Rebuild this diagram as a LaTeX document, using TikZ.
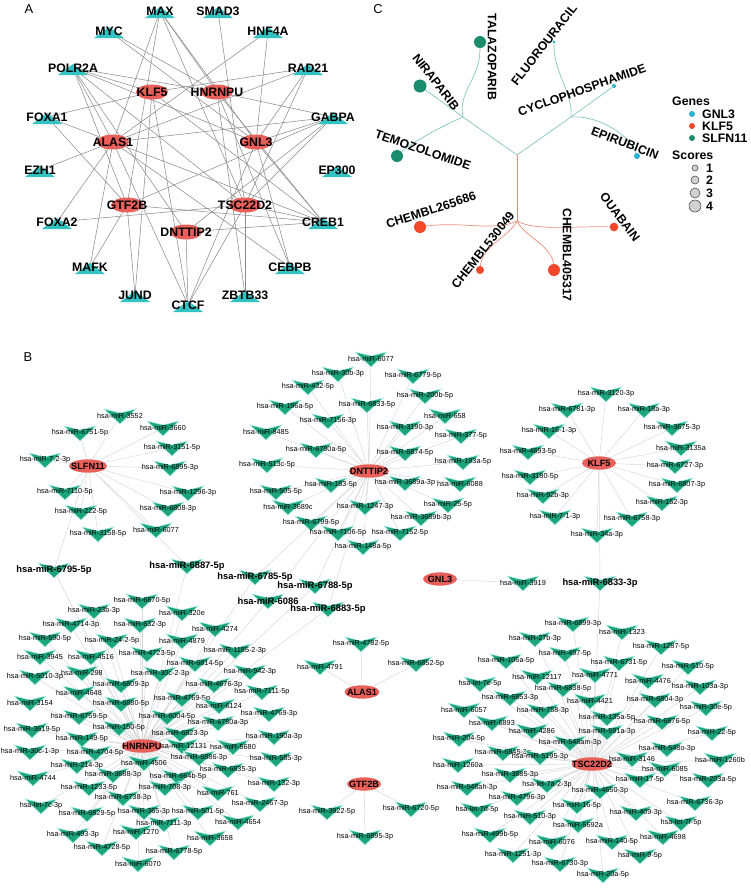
\documentclass[tikz,border=0pt]{standalone}
\usepackage{fontspec}
\setmainfont{Liberation Sans}
\usetikzlibrary{shapes.geometric}
\pgfdeclarelayer{bg}
\pgfdeclarelayer{fg}
\pgfsetlayers{bg,main,fg}
\definecolor{hubred}{HTML}{E9605A}
\definecolor{tfteal}{HTML}{33C2C2}
\definecolor{mirgreen}{HTML}{1CA57D}
\definecolor{mirglow}{HTML}{A8EDE6}
\definecolor{agray}{HTML}{8A8A8A}
\definecolor{bgray}{HTML}{D6D6D6}
\definecolor{slfcol}{HTML}{1B8C6C}
\definecolor{gnlcol}{HTML}{2AB3D3}
\definecolor{klfcol}{HTML}{F2472B}
\definecolor{tline}{HTML}{86C8B9}
\definecolor{rline}{HTML}{E8907F}

\begin{document}
\begin{tikzpicture}[x=0.03cm,y=-0.03cm,
  panel/.style={font=\fontsize{11}{13}\selectfont},
  tflab/.style={font=\bfseries\fontsize{10.5}{12}\selectfont,inner sep=0pt},
  hubA/.style={ellipse,fill=hubred,minimum width=0.96cm,minimum height=0.45cm,inner sep=0pt},
  hubAtxt/.style={font=\bfseries\fontsize{10.5}{12}\selectfont,inner sep=0pt},
  aedge/.style={draw=agray,line width=0.45pt},
  hubB/.style={ellipse,fill=hubred,minimum height=0.4cm,inner sep=0pt},
  hubBtxt/.style={font=\bfseries\fontsize{7.8}{9}\selectfont,inner sep=0pt},
  mir/.style={font=\fontsize{6.2}{7}\selectfont,inner sep=0pt},
  mirbig/.style={font=\bfseries\fontsize{8}{9}\selectfont,inner sep=0pt},
  bedge/.style={draw=bgray,line width=0.4pt},
  drug/.style={circle,inner sep=0pt},
  druglab/.style={font=\bfseries\fontsize{10.5}{12}\selectfont,inner sep=0pt},
  tbranch/.style={draw=tline,line width=0.6pt},
  rbranch/.style={draw=rline,line width=0.6pt},
  legtxt/.style={font=\bfseries\fontsize{10.5}{12}\selectfont,inner sep=0pt,anchor=west},
  pics/tftri/.style={code={\fill[tfteal] (-15,7) -- (15,7) -- (0,-4) -- cycle;}},
  pics/chev/.style={code={\filldraw[draw=mirglow,line width=0.5pt,fill=mirgreen] (-16,-7) -- (0,-3) -- (16,-7) -- (0,8) -- cycle;}}]
\useasboundingbox (0,0) rectangle (751,888);

% panel A
\node[panel] (lA) at (29,9) {A};
\foreach \n/\x/\y/\t in {max/160/11/MAX, smad3/218/11/SMAD3, myc/109/31/MYC, hnf4a/268/31/HNF4A,
  polr2a/73/68/POLR2A, rad21/308/68/RAD21, foxa1/47/117/FOXA1, gabpa/333/117/GABPA,
  ezh1/40/170/EZH1, ep300/337/170/EP300, foxa2/57/222/FOXA2, creb1/323/222/CREB1,
  mafk/90/267/MAFK, cebpb/290/267/CEBPB, jund/135/295/JUND, zbtb33/245/295/ZBTB33, ctcf/188/305/CTCF} {
  \pic at (\x,\y) {tftri};
  \node[tflab] (\n) at (\x,\y) {\t};
}
\foreach \n/\x/\y/\t in {klf5A/152/92/KLF5, hnrnpuA/217/92/HNRNPU, alas1A/113/142/ALAS1, gnl3A/256/142/GNL3,
  gtf2bA/127/205/GTF2B, tsc22d2A/245/205/TSC22D2, dnttip2A/186/232/DNTTIP2}
  \node[hubA,label={[hubAtxt]center:\t}] (\n) at (\x,\y) {};
\begin{pgfonlayer}{bg}
\foreach \a/\b in {max/alas1A, max/hnrnpuA, max/gnl3A, max/tsc22d2A, max/gtf2bA, smad3/tsc22d2A,
  myc/hnrnpuA, myc/gnl3A, hnf4a/alas1A, hnf4a/gnl3A,
  polr2a/hnrnpuA, polr2a/alas1A, polr2a/gtf2bA, polr2a/gnl3A, polr2a/tsc22d2A, polr2a/dnttip2A, polr2a/klf5A,
  rad21/alas1A, rad21/gnl3A, rad21/tsc22d2A, rad21/klf5A, foxa1/klf5A, foxa1/alas1A, foxa1/gtf2bA,
  gabpa/alas1A, gabpa/hnrnpuA, gabpa/gnl3A, gabpa/tsc22d2A, gabpa/dnttip2A, gabpa/gtf2bA, ezh1/alas1A,
  foxa2/alas1A, foxa2/tsc22d2A, creb1/hnrnpuA, creb1/alas1A, creb1/gnl3A, creb1/gtf2bA, creb1/dnttip2A,
  creb1/tsc22d2A, creb1/klf5A, mafk/alas1A, mafk/gtf2bA, cebpb/hnrnpuA, cebpb/gnl3A, cebpb/alas1A,
  jund/gtf2bA, jund/klf5A, zbtb33/tsc22d2A, zbtb33/hnrnpuA, ctcf/dnttip2A, ctcf/gnl3A, ctcf/tsc22d2A,
  ctcf/alas1A, ctcf/klf5A}
  \draw[aedge] (\a.center) -- (\b.center);
\end{pgfonlayer}

% panel C
\node[panel] (lC) at (378,9) {C};
\coordinate (root) at (517,155);
\coordinate (jl) at (463,117);
\coordinate (jr) at (571,117);
\coordinate (jk) at (517,221);
\node[drug,fill=slfcol,minimum size=0.39cm] (nira) at (420,86) {};
\node[drug,fill=slfcol,minimum size=0.36cm] (tala) at (480,42) {};
\node[drug,fill=slfcol,minimum size=0.36cm] (temo) at (397,156) {};
\node[drug,fill=gnlcol,minimum size=0.09cm] (fluo) at (554,42) {};
\node[drug,fill=gnlcol,minimum size=0.12cm] (cyclo) at (614,86) {};
\node[drug,fill=gnlcol,minimum size=0.18cm] (epi) at (637,156) {};
\node[drug,fill=klfcol,minimum size=0.36cm] (c265) at (420,227) {};
\node[drug,fill=klfcol,minimum size=0.26cm] (ouab) at (614,227) {};
\node[drug,fill=klfcol,minimum size=0.24cm] (c530) at (480,270) {};
\node[drug,fill=klfcol,minimum size=0.36cm] (c405) at (554,270) {};
\node[druglab,rotate=-52] (niraT) at (436,82) {NIRAPARIB};
\node[druglab,rotate=-90] (talaT) at (492,57) {TALAZOPARIB};
\node[druglab,rotate=-19] (temoT) at (423,150) {TEMOZOLOMIDE};
\node[druglab,rotate=52] (fluoT) at (544,45) {FLUOROURACIL};
\node[druglab,rotate=19.5] (cycloT) at (582,90) {CYCLOPHOSPHAMIDE};
\node[druglab,rotate=-21] (epiT) at (625,143) {EPIRUBICIN};
\node[druglab,rotate=18] (c265T) at (431,210) {CHEMBL265686};
\node[druglab,rotate=52] (c530T) at (483,250) {CHEMBL530049};
\node[druglab,rotate=-90] (c405T) at (567,255) {CHEMBL405317};
\node[druglab,rotate=-53] (ouabT) at (620,217) {OUABAIN};
\begin{pgfonlayer}{bg}
\draw[tbranch] (root) -- (jl);
\draw[tbranch] (root) -- (jr);
\draw[tbranch] (jl) -- (nira);
\draw[tbranch] (jl) .. controls (458,90) and (480,80) .. (tala);
\draw[tbranch] (jl) .. controls (445,125) and (415,140) .. (temo);
\draw[tbranch] (jr) .. controls (573,92) and (553,72) .. (fluo);
\draw[tbranch] (jr) -- (cyclo);
\draw[tbranch] (jr) .. controls (595,115) and (628,132) .. (epi);
\draw[rbranch] (root) -- (jk);
\draw[rbranch] (jk) .. controls (495,232) and (462,221) .. (c265);
\draw[rbranch] (jk) .. controls (535,231) and (570,226) .. (ouab);
\draw[rbranch] (jk) .. controls (510,236) and (482,246) .. (c530);
\draw[rbranch] (jk) .. controls (524,236) and (552,246) .. (c405);
\end{pgfonlayer}
% legend
\node[legtxt] (lgGenes) at (672,101) {Genes};
\foreach \y/\c/\t in {114/gnlcol/GNL3, 126/klfcol/KLF5, 138/slfcol/SLFN11} {
  \node[drug,fill=\c,minimum size=0.18cm] (g\t) at (692,\y) {};
  \node[legtxt] at (702,\y) {\t};
}
\node[legtxt] (lgScores) at (672,155) {Scores};
\foreach \y/\r/\t in {168/0.18/1, 180/0.24/2, 193/0.3/3, 206/0.36/4} {
  \node[drug,fill=black!18,draw=black!70,line width=0.5pt,minimum size=\r cm] (sc\t) at (695,\y) {};
  \node[legtxt] at (706,\y) {\t};
}

% panel B
\node[panel] (lB) at (28,357) {B};
\begin{pgfonlayer}{fg}
\foreach \n/\x/\y/\w/\t in {slfnB/88/466/1.14/SLFN11, dnttipB/369/471/1.2/DNTTIP2, klf5B/599/463/1.02/KLF5,
  gnl3B/440/579/1.02/GNL3, alasB/362/692/1.05/ALAS1, gtfB/364/784/1.02/GTF2B,
  hnrnpuB/142/746/1.23/HNRNPU, tscB/592/764/1.23/TSC22D2}
  \node[hubB,minimum width=\w cm,label={[hubBtxt]center:\t}] (\n) at (\x,\y) {};
\end{pgfonlayer}

\foreach \x/\y/\t [count=\i] in {120/416/hsa-miR-3552, 163/428/hsa-miR-3660, 80/433/hsa-miR-6751-5p,
  172/448/hsa-miR-3151-5p, 45/460/hsa-miR-7-2-3p, 170/468/hsa-miR-6895-3p, 188/493/hsa-miR-1296-3p,
  65/492/hsa-miR-7110-5p, 81/512/hsa-miR-222-5p, 168/509/hsa-miR-6808-3p, 98/534/hsa-miR-3158-5p,
  156/530/hsa-miR-6077} {
  \pic at (\x,\y) {chev};
  \node[mir] (s\i) at (\x,\y) {\t};
  \begin{pgfonlayer}{bg}\draw[bedge] (slfnB.center) -- (s\i.center);\end{pgfonlayer}
}

\foreach \x/\y/\t [count=\i] in {371/359/hsa-miR-6077, 338/374/hsa-miR-30b-3p, 413/376/hsa-miR-6779-5p,
  308/387/hsa-miR-432-5p, 425/396/hsa-miR-200b-5p, 285/407/hsa-miR-196a-5p, 367/405/hsa-miR-6833-5p,
  445/416/hsa-miR-658, 328/421/hsa-miR-7156-3p, 405/428/hsa-miR-3190-3p, 266/432/hsa-miR-8485,
  461/436/hsa-miR-377-5p, 316/450/hsa-miR-6780a-5p, 405/453/hsa-miR-6874-5p, 267/465/hsa-miR-513c-5p,
  463/462/hsa-miR-193a-5p, 405/483/hsa-miR-3689a-3p, 460/484/hsa-miR-6088, 331/485/hsa-miR-183-5p,
  276/492/hsa-miR-505-5p, 365/507/hsa-miR-1247-3p, 448/505/hsa-miR-25-5p, 288/507/hsa-miR-3689c,
  421/518/hsa-miR-3689b-3p, 311/523/hsa-miR-6799-5p, 338/533/hsa-miR-7106-5p, 400/533/hsa-miR-7152-5p,
  363/547/hsa-miR-148a-5p} {
  \pic at (\x,\y) {chev};
  \node[mir] (d\i) at (\x,\y) {\t};
  \begin{pgfonlayer}{bg}\draw[bedge] (dnttipB.center) -- (d\i.center);\end{pgfonlayer}
}

\foreach \x/\y/\t [count=\i] in {606/394/hsa-miR-3120-3p, 567/410/hsa-miR-6781-3p, 644/410/hsa-miR-18a-3p,
  549/431/hsa-miR-16-1-3p, 672/428/hsa-miR-3675-3p, 528/452/hsa-miR-4693-5p, 681/448/hsa-miR-3135a,
  675/466/hsa-miR-6727-3p, 530/477/hsa-miR-3180-5p, 677/485/hsa-miR-6807-3p, 543/496/hsa-miR-92b-3p,
  662/503/hsa-miR-152-3p, 555/517/hsa-miR-7-1-3p, 632/519/hsa-miR-6758-3p, 597/535/hsa-miR-34a-3p} {
  \pic at (\x,\y) {chev};
  \node[mir] (k\i) at (\x,\y) {\t};
  \begin{pgfonlayer}{bg}\draw[bedge] (klf5B.center) -- (k\i.center);\end{pgfonlayer}
}

\pic at (523,583) {chev};
\node[mir] (g1) at (523,583) {hsa-miR-3919};
\begin{pgfonlayer}{bg}\draw[bedge] (gnl3B.center) -- (g1.center);\end{pgfonlayer}

\foreach \x/\y/\t [count=\i] in {361/644/hsa-miR-4782-5p, 320/667/hsa-miR-4791, 416/664/hsa-miR-6852-5p} {
  \pic at (\x,\y) {chev};
  \node[mir] (a\i) at (\x,\y) {\t};
  \begin{pgfonlayer}{bg}\draw[bedge] (alasB.center) -- (a\i.center);\end{pgfonlayer}
}

\foreach \x/\y/\t [count=\i] in {327/812/hsa-miR-3922-5p, 411/809/hsa-miR-6720-5p, 365/837/hsa-miR-6895-3p} {
  \pic at (\x,\y) {chev};
  \node[mir] (b\i) at (\x,\y) {\t};
  \begin{pgfonlayer}{bg}\draw[bedge] (gtfB.center) -- (b\i.center);\end{pgfonlayer}
}

\foreach \x/\y/\t [count=\i] in {142/601/hsa-miR-6870-5p, 94/611/hsa-miR-23b-3p, 182/613/hsa-miR-320e,
  71/625/hsa-miR-4714-3p, 140/625/hsa-miR-632-3p, 215/629/hsa-miR-4274, 45/639/hsa-miR-590-5p,
  112/641/hsa-miR-24-2-5p, 182/641/hsa-miR-4879, 40/657/hsa-miR-3945, 91/657/hsa-miR-4516,
  147/654/hsa-miR-4723-5p, 235/651/hsa-miR-1185-2-3p, 195/664/hsa-miR-6814-5p, 82/673/hsa-miR-298,
  35/677/hsa-miR-5010-3p, 160/674/hsa-miR-30c-2-3p, 250/672/hsa-miR-942-3p, 121/685/hsa-miR-6809-3p,
  214/685/hsa-miR-4676-3p, 262/692/hsa-miR-7111-5p, 79/693/hsa-miR-4648, 30/703/hsa-miR-3154,
  121/704/hsa-miR-6880-5p, 182/699/hsa-miR-4769-5p, 219/706/hsa-miR-6124, 269/714/hsa-miR-4769-3p,
  79/717/hsa-miR-6759-5p, 167/717/hsa-miR-6004-5p, 218/723/hsa-miR-6780a-3p, 32/730/hsa-miR-3619-5p,
  119/728/hsa-miR-150-5p, 180/734/hsa-miR-6823-3p, 274/737/hsa-miR-190a-3p, 82/739/hsa-miR-149-5p,
  182/746/hsa-miR-12131, 233/747/hsa-miR-5680, 30/752/hsa-miR-30c-1-3p, 95/753/hsa-miR-4704-5p,
  199/758/hsa-miR-6886-3p, 276/759/hsa-miR-585-3p, 77/766/hsa-miR-214-3p, 144/763/hsa-miR-4506,
  228/770/hsa-miR-6835-3p, 33/778/hsa-miR-4744, 113/775/hsa-miR-3688-3p, 178/777/hsa-miR-664b-5p,
  274/784/hsa-miR-132-3p, 89/788/hsa-miR-1233-5p, 165/788/hsa-miR-708-3p, 218/793/hsa-miR-761,
  123/798/hsa-miR-6738-3p, 260/804/hsa-miR-2467-3p, 41/806/hsa-let-7c-3p, 87/814/hsa-miR-6829-5p,
  144/812/hsa-miR-365-3p, 198/812/hsa-miR-501-5p, 238/822/hsa-miR-4654, 164/824/hsa-miR-7111-3p,
  73/835/hsa-miR-493-3p, 136/832/hsa-miR-1270, 210/838/hsa-miR-3658, 102/848/hsa-miR-4728-5p,
  174/852/hsa-miR-6778-5p, 138/864/hsa-miR-6070} {
  \pic at (\x,\y) {chev};
  \node[mir] (h\i) at (\x,\y) {\t};
  \begin{pgfonlayer}{bg}\draw[bedge] (hnrnpuB.center) -- (h\i.center);\end{pgfonlayer}
}

\foreach \x/\y/\t [count=\i] in {573/624/hsa-miR-6899-3p, 622/632/hsa-miR-1323, 535/639/hsa-miR-27b-3p,
  661/647/hsa-miR-1287-5p, 565/654/hsa-miR-497-5p, 506/661/hsa-miR-106a-5p, 619/663/hsa-miR-6731-5p,
  688/667/hsa-miR-510-5p, 537/677/hsa-miR-12117, 595/675/hsa-miR-4771, 480/684/hsa-let-7e-5p,
  648/681/hsa-miR-4476, 563/689/hsa-miR-6838-5p, 700/687/hsa-miR-103a-3p, 510/698/hsa-miR-6853-3p,
  590/701/hsa-miR-4421, 655/700/hsa-miR-6804-3p, 706/708/hsa-miR-30e-5p, 464/710/hsa-miR-6057,
  543/711/hsa-miR-758-3p, 607/718/hsa-miR-135a-5p, 662/722/hsa-miR-6876-5p, 492/723/hsa-miR-6893,
  532/731/hsa-miR-4286, 607/732/hsa-miR-591a-3p, 712/733/hsa-miR-22-5p, 570/743/hsa-miR-548am-3p,
  459/739/hsa-miR-204-5p, 667/749/hsa-miR-548o-3p, 503/753/hsa-miR-6845-3p, 540/757/hsa-miR-5195-3p,
  632/759/hsa-miR-3146, 720/760/hsa-miR-1260b, 458/765/hsa-miR-1260a, 665/769/hsa-miR-6085,
  510/775/hsa-miR-3885-3p, 547/785/hsa-let-7a-2-3p, 640/780/hsa-miR-17-5p, 708/780/hsa-miR-203a-5p,
  467/788/hsa-miR-548ah-3p, 600/791/hsa-miR-4650-3p, 517/798/hsa-miR-4796-3p, 477/810/hsa-let-7d-5p,
  577/806/hsa-miR-16-5p, 695/803/hsa-miR-6736-3p, 636/813/hsa-miR-409-3p, 530/817/hsa-miR-510-3p,
  681/823/hsa-let-7f-5p, 578/825/hsa-miR-5692a, 490/835/hsa-miR-499b-5p, 663/837/hsa-miR-4698,
  552/842/hsa-miR-6076, 612/842/hsa-miR-140-5p, 640/856/hsa-miR-9-5p, 513/855/hsa-miR-1251-3p,
  560/864/hsa-miR-6730-3p, 603/875/hsa-miR-20a-5p} {
  \pic at (\x,\y) {chev};
  \node[mir] (t\i) at (\x,\y) {\t};
  \begin{pgfonlayer}{bg}\draw[bedge] (tscB.center) -- (t\i.center);\end{pgfonlayer}
}

% shared targets
\foreach \x/\y/\t/\p/\q [count=\i] in {54/570/hsa-miR-6795-5p/slfnB/hnrnpuB, 187/566/hsa-miR-6887-5p/slfnB/hnrnpuB,
  255/577/hsa-miR-6785-5p/dnttipB/hnrnpuB, 315/586/hsa-miR-6788-5p/dnttipB/hnrnpuB,
  268/601/hsa-miR-6086/dnttipB/hnrnpuB, 328/609/hsa-miR-6883-5p/dnttipB/hnrnpuB,
  600/583/hsa-miR-6833-3p/klf5B/tscB} {
  \pic at (\x,\y) {chev};
  \node[mirbig] (c\i) at (\x,\y) {\t};
  \begin{pgfonlayer}{bg}\draw[bedge] (\p.center) -- (c\i.center) -- (\q.center);\end{pgfonlayer}
}
\end{tikzpicture}
\end{document}
